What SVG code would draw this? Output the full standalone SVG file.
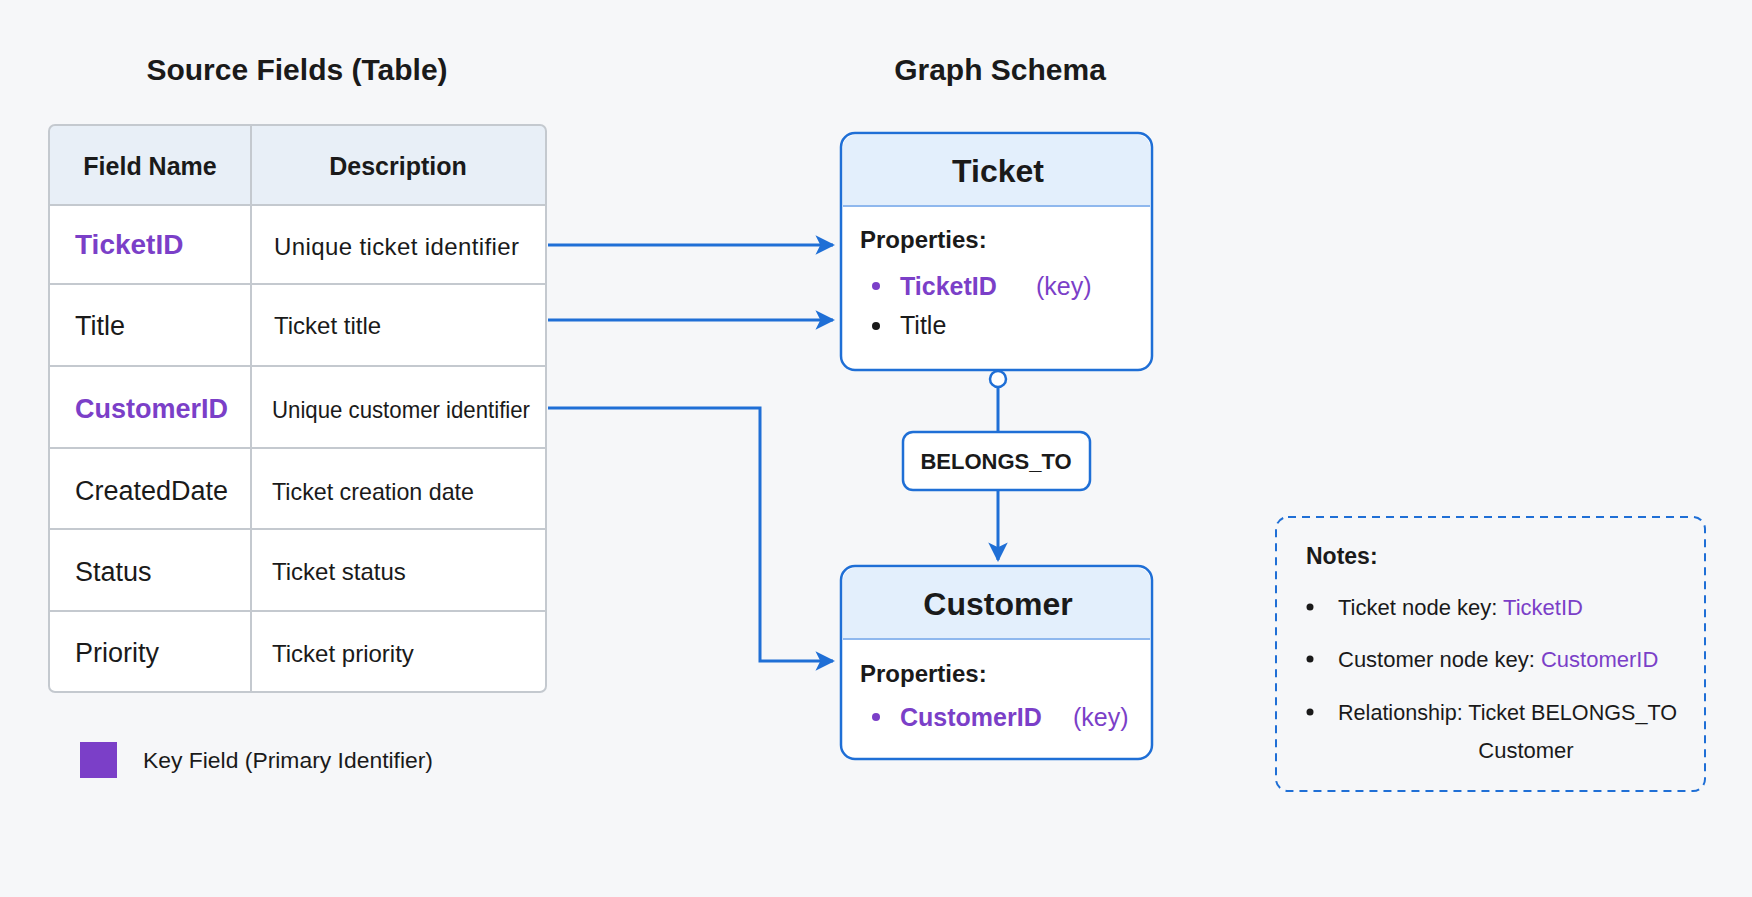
<svg xmlns="http://www.w3.org/2000/svg" width="1752" height="897" viewBox="0 0 1752 897">
<defs>
<style>
text{font-family:"Liberation Sans","DejaVu Sans",sans-serif;fill:#1a1a1a}
.h{font-weight:bold;font-size:30px}
.th{font-weight:bold;font-size:25px}
.td{font-size:24px}
.k{fill:#7b3fc8}
.kb{fill:#7b3fc8;font-weight:bold}
.grid{stroke:#c4c9cf;stroke-width:2;fill:none}
.node{fill:#fff;stroke:#1f6fd6;stroke-width:2.5}
.con{stroke:#1f6fd6;stroke-width:3;fill:none}
.nt{font-size:22px}
</style>
<marker id="ar" viewBox="0 0 10 10" refX="9" refY="5" markerWidth="6.5" markerHeight="6.5" orient="auto"><path d="M0,0L10,5L0,10L2.5,5z" fill="#1f6fd6"/></marker>
</defs>
<rect width="1752" height="897" fill="#f6f7f9"/>
<text class="h" x="297" y="80" text-anchor="middle">Source Fields (Table)</text>
<text class="h" x="1000" y="80" text-anchor="middle">Graph Schema</text>
<g id="table">
<rect x="49" y="125" width="497" height="567" rx="6" fill="#fff"/>
<path d="M49,131a6,6 0 0 1 6,-6h485a6,6 0 0 1 6,6v74h-497z" fill="#e8eff7"/>
<rect x="49" y="125" width="497" height="567" rx="6" class="grid" stroke-width="2.5"/>
<path class="grid" d="M251,125V692M49,205H546M49,284H546M49,366H546M49,448H546M49,529H546M49,611H546"/>
<text class="th" x="150" y="175" text-anchor="middle">Field Name</text>
<text class="th" x="398" y="175" text-anchor="middle">Description</text>
<text class="kb" x="75" y="254" font-size="28">TicketID</text>
<text class="td" x="274" y="255" textLength="245">Unique ticket identifier</text>
<text x="75" y="335" font-size="27">Title</text>
<text class="td" x="274" y="334">Ticket title</text>
<text class="kb" x="75" y="418" font-size="27">CustomerID</text>
<text class="td" x="272" y="418" textLength="258" lengthAdjust="spacingAndGlyphs">Unique customer identifier</text>
<text x="75" y="500" font-size="27">CreatedDate</text>
<text class="td" x="272" y="500" textLength="202" lengthAdjust="spacingAndGlyphs">Ticket creation date</text>
<text x="75" y="581" font-size="27">Status</text>
<text class="td" x="272" y="580">Ticket status</text>
<text x="75" y="662" font-size="27">Priority</text>
<text class="td" x="272" y="662">Ticket priority</text>
</g>
<g id="legend">
<rect x="80" y="742" width="37" height="36" fill="#7b3fc8"/>
<text x="143" y="768" font-size="22" textLength="290" lengthAdjust="spacingAndGlyphs">Key Field (Primary Identifier)</text>
</g>
<g id="ticket">
<rect class="node" x="841" y="133" width="311" height="237" rx="14"/>
<path d="M843,206V147a12,12 0 0 1 12,-12h283a12,12 0 0 1 12,12v59z" fill="#e3effc"/>
<line x1="843" y1="206" x2="1150" y2="206" stroke="#8fb8ee" stroke-width="2"/>
<text x="998" y="182" text-anchor="middle" font-size="32" font-weight="bold">Ticket</text>
<text x="860" y="248" font-size="24" font-weight="bold">Properties:</text>
<circle cx="876" cy="286" r="4" fill="#7b3fc8"/>
<text x="900" y="295" font-size="25" class="kb">TicketID</text>
<text x="1036" y="295" font-size="25" class="k">(key)</text>
<circle cx="876" cy="326" r="4" fill="#1a1a1a"/>
<text x="900" y="334" font-size="25">Title</text>
</g>
<g id="belongs">
<rect x="903" y="432" width="187" height="58" rx="10" fill="#fff" stroke="#1f6fd6" stroke-width="2.5"/>
<text x="996" y="469" text-anchor="middle" font-size="22" font-weight="bold">BELONGS_TO</text>
</g>
<g id="customer">
<rect class="node" x="841" y="566" width="311" height="193" rx="14"/>
<path d="M843,639V580a12,12 0 0 1 12,-12h283a12,12 0 0 1 12,12v59z" fill="#e3effc"/>
<line x1="843" y1="639" x2="1150" y2="639" stroke="#8fb8ee" stroke-width="2"/>
<text x="998" y="615" text-anchor="middle" font-size="32" font-weight="bold">Customer</text>
<text x="860" y="682" font-size="24" font-weight="bold">Properties:</text>
<circle cx="876" cy="717" r="4" fill="#7b3fc8"/>
<text x="900" y="726" font-size="25" class="kb">CustomerID</text>
<text x="1073" y="726" font-size="25" class="k">(key)</text>
</g>
<g id="notes">
<rect x="1276" y="517" width="429" height="274" rx="12" fill="none" stroke="#1f6fd6" stroke-width="2" stroke-dasharray="8,6"/>
<text x="1306" y="564" font-size="23" font-weight="bold">Notes:</text>
<circle cx="1310" cy="607" r="3.5" fill="#1a1a1a"/>
<text class="nt" x="1338" y="615">Ticket node key: <tspan class="k">TicketID</tspan></text>
<circle cx="1310" cy="659" r="3.5" fill="#1a1a1a"/>
<text class="nt" x="1338" y="667">Customer node key: <tspan class="k">CustomerID</tspan></text>
<circle cx="1310" cy="712" r="3.5" fill="#1a1a1a"/>
<text class="nt" x="1338" y="720" textLength="339" lengthAdjust="spacingAndGlyphs">Relationship: Ticket BELONGS_TO</text>
<text class="nt" x="1526" y="758" text-anchor="middle">Customer</text>
</g>
<g id="connectors">
<path class="con" d="M548,245H833" marker-end="url(#ar)"/>
<path class="con" d="M548,320H833" marker-end="url(#ar)"/>
<path class="con" d="M548,408H760V661H833" marker-end="url(#ar)"/>
<path class="con" d="M998,387V432"/>
<circle cx="998" cy="379" r="8" fill="#fff" stroke="#1f6fd6" stroke-width="2.5"/>
<path class="con" d="M998,490V560" marker-end="url(#ar)"/>
</g>
</svg>
